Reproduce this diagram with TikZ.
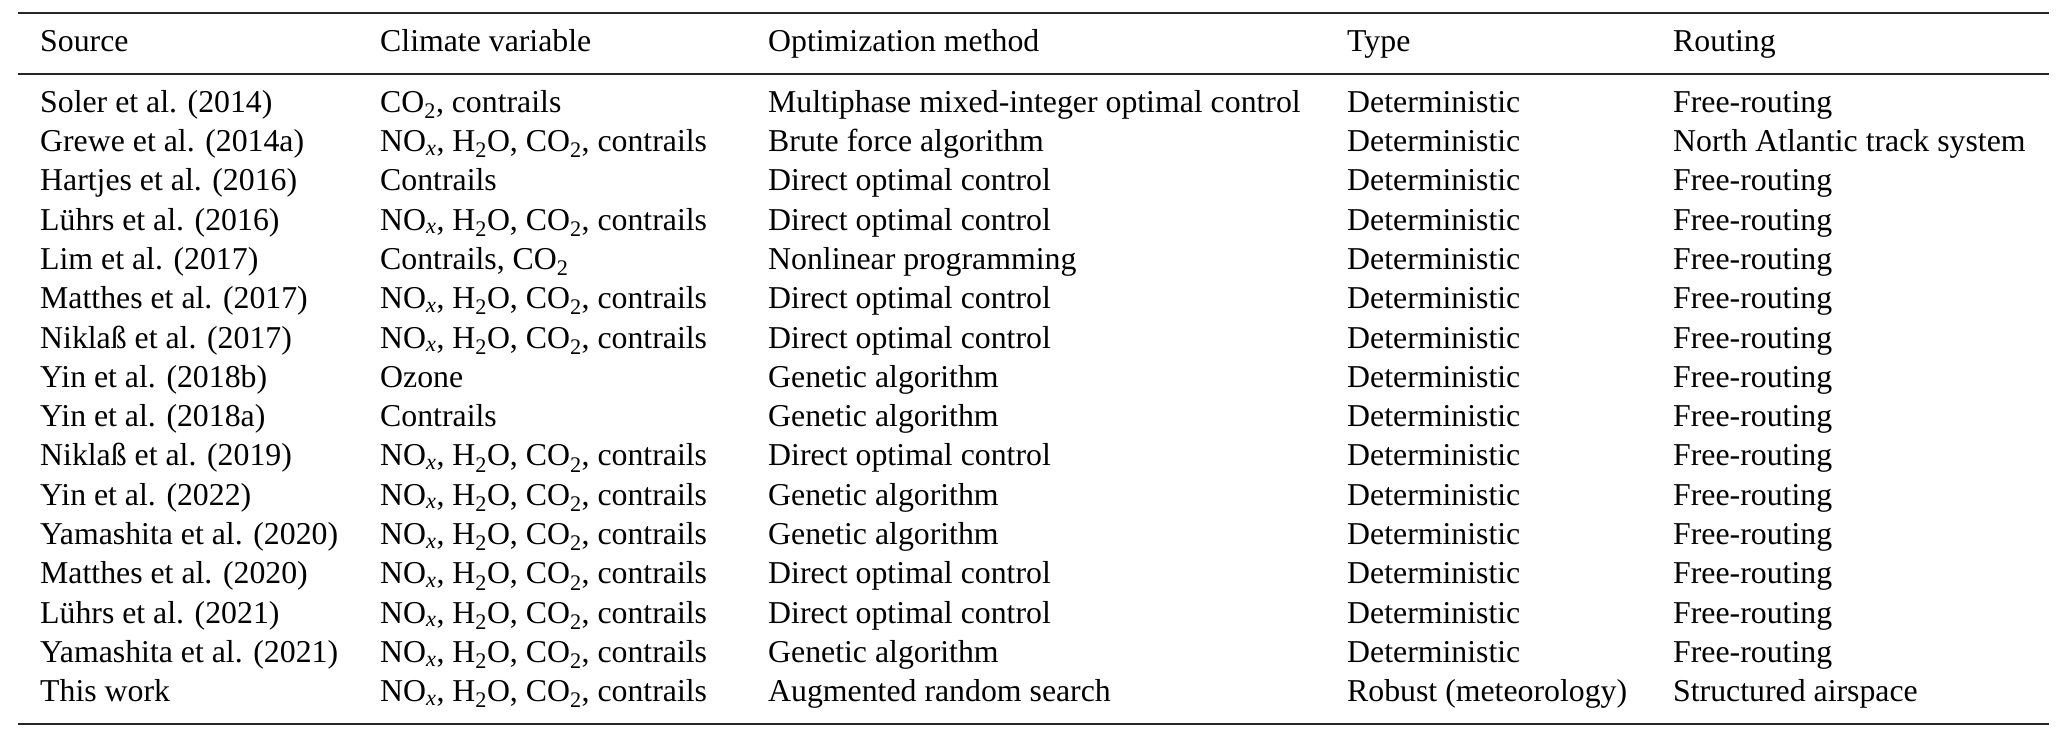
\documentclass[tikz,border=0pt]{standalone}
\usepackage{fontspec}
\setmainfont{Liberation Serif}
\begin{document}
\begin{tikzpicture}[x=1pt,y=-1pt,
  cell/.style={anchor=west,inner sep=0pt,text height=0.7em,text depth=0.25em,font=\fontsize{31.8}{34}\selectfont},
  rule/.style={line width=2pt,draw=black!85}]
\useasboundingbox (0,0) rectangle (2067,737);
\coordinate (tl) at (18,13); \coordinate (tr) at (2049,13);
\coordinate (ml) at (18,74); \coordinate (mr) at (2049,74);
\coordinate (bl) at (18,724); \coordinate (br) at (2049,724);
\draw[rule] (tl) -- (tr);
\draw[rule] (ml) -- (mr);
\draw[rule] (bl) -- (br);
\newcommand{\NOx}{NO\textsubscript{\textit{x}}, H\textsubscript{2}O, CO\textsubscript{2}, contrails}
\newcommand{\tabrow}[7]{%
  \node[cell] (a#1) at (40,#2+7) {#3};
  \node[cell] (b#1) at (380,#2+7) {#4};
  \node[cell] (c#1) at (768,#2+7) {#5};
  \node[cell] (d#1) at (1347,#2+7) {#6};
  \node[cell] (e#1) at (1673,#2+7) {#7};}
\tabrow{h}{42}{Source}{Climate variable}{Optimization method}{Type}{Routing}
\tabrow{1}{103}{Soler et al. (2014)}{CO\textsubscript{2}, contrails}{Multiphase mixed-integer optimal control}{Deterministic}{Free-routing}
\tabrow{2}{142.3}{Grewe et al. (2014a)}{\NOx}{Brute force algorithm}{Deterministic}{North Atlantic track system}
\tabrow{3}{181.6}{Hartjes et al. (2016)}{Contrails}{Direct optimal control}{Deterministic}{Free-routing}
\tabrow{4}{220.9}{Lührs et al. (2016)}{\NOx}{Direct optimal control}{Deterministic}{Free-routing}
\tabrow{5}{260.2}{Lim et al. (2017)}{Contrails, CO\textsubscript{2}}{Nonlinear programming}{Deterministic}{Free-routing}
\tabrow{6}{299.5}{Matthes et al. (2017)}{\NOx}{Direct optimal control}{Deterministic}{Free-routing}
\tabrow{7}{338.8}{Niklaß et al. (2017)}{\NOx}{Direct optimal control}{Deterministic}{Free-routing}
\tabrow{8}{378.1}{Yin et al. (2018b)}{Ozone}{Genetic algorithm}{Deterministic}{Free-routing}
\tabrow{9}{417.4}{Yin et al. (2018a)}{Contrails}{Genetic algorithm}{Deterministic}{Free-routing}
\tabrow{10}{456.7}{Niklaß et al. (2019)}{\NOx}{Direct optimal control}{Deterministic}{Free-routing}
\tabrow{11}{496}{Yin et al. (2022)}{\NOx}{Genetic algorithm}{Deterministic}{Free-routing}
\tabrow{12}{535.3}{Yamashita et al. (2020)}{\NOx}{Genetic algorithm}{Deterministic}{Free-routing}
\tabrow{13}{574.6}{Matthes et al. (2020)}{\NOx}{Direct optimal control}{Deterministic}{Free-routing}
\tabrow{14}{613.9}{Lührs et al. (2021)}{\NOx}{Direct optimal control}{Deterministic}{Free-routing}
\tabrow{15}{653.2}{Yamashita et al. (2021)}{\NOx}{Genetic algorithm}{Deterministic}{Free-routing}
\tabrow{16}{692.5}{This work}{\NOx}{Augmented random search}{Robust (meteorology)}{Structured airspace}
\end{tikzpicture}
\end{document}
